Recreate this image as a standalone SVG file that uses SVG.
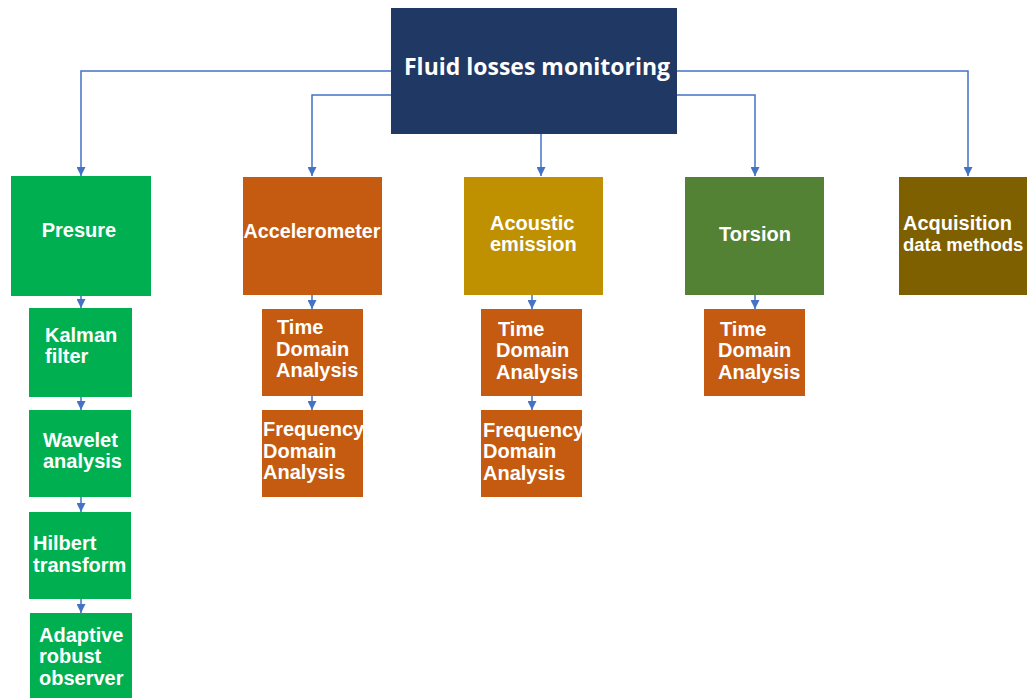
<svg xmlns="http://www.w3.org/2000/svg" width="1027" height="698" viewBox="0 0 1027 698">
<style>
.lbl{font-family:"Liberation Sans",Arial,sans-serif;font-weight:700;font-size:20px;fill:#ffffff}
.title{font-family:"Open Sans","Liberation Sans",sans-serif;font-weight:700;font-size:23px;fill:#ffffff}
.con{fill:none;stroke:#4472c4;stroke-width:1.5}
.green{fill:#00b050}
.orange{fill:#c55a11}
</style>
<defs>
<marker id="ah" viewBox="0 0 10 10" refX="10" refY="5" markerWidth="9" markerHeight="9" markerUnits="userSpaceOnUse" orient="auto">
<path d="M0,0 L10,5 L0,10 z" fill="#4472c4"/>
</marker>
</defs>
<rect width="1027" height="698" fill="#ffffff"/>
<g id="connectors">
<path class="con" d="M391,71 H81 V176" marker-end="url(#ah)"/>
<path class="con" d="M391,95 H312 V176" marker-end="url(#ah)"/>
<path class="con" d="M541,134 V176" marker-end="url(#ah)"/>
<path class="con" d="M677,95 H755 V176" marker-end="url(#ah)"/>
<path class="con" d="M677,71 H968 V176" marker-end="url(#ah)"/>
<path class="con" d="M81,296 V308" marker-end="url(#ah)"/>
<path class="con" d="M81,397 V410" marker-end="url(#ah)"/>
<path class="con" d="M81,497 V512" marker-end="url(#ah)"/>
<path class="con" d="M81,599 V613" marker-end="url(#ah)"/>
<path class="con" d="M312,295 V309" marker-end="url(#ah)"/>
<path class="con" d="M312,396 V410" marker-end="url(#ah)"/>
<path class="con" d="M532,295 V309" marker-end="url(#ah)"/>
<path class="con" d="M532,396 V410" marker-end="url(#ah)"/>
<path class="con" d="M755,295 V309" marker-end="url(#ah)"/>
</g>
<g id="root">
<rect x="391" y="8" width="286" height="126" fill="#203864"/>
<text class="title" x="404" y="75" textLength="266" lengthAdjust="spacingAndGlyphs">Fluid losses monitoring</text>
</g>
<g id="presure">
<rect class="green" x="11" y="176" width="140" height="120"/>
<text class="lbl" x="79" y="237" text-anchor="middle">Presure</text>
</g>
<g id="accelerometer">
<rect class="orange" x="243" y="177" width="139" height="118"/>
<text class="lbl" x="312" y="238" text-anchor="middle" textLength="137" lengthAdjust="spacingAndGlyphs">Accelerometer</text>
</g>
<g id="acoustic">
<rect x="464" y="177" width="139" height="118" fill="#bf9000"/>
<text class="lbl" x="490" y="230">Acoustic</text>
<text class="lbl" x="490" y="251">emission</text>
</g>
<g id="torsion">
<rect x="685" y="177" width="139" height="118" fill="#548235"/>
<text class="lbl" x="755" y="241" text-anchor="middle">Torsion</text>
</g>
<g id="acquisition">
<rect x="899" y="177" width="128" height="118" fill="#7f6000"/>
<text class="lbl" x="903" y="230">Acquisition</text>
<text class="lbl" x="903" y="251" style="font-size:18.5px">data methods</text>
</g>
<g id="kalman">
<rect class="green" x="29" y="308" width="103" height="89"/>
<text class="lbl" x="45" y="342">Kalman</text>
<text class="lbl" x="45" y="363">filter</text>
</g>
<g id="wavelet">
<rect class="green" x="29" y="410" width="102" height="87"/>
<text class="lbl" x="43" y="447">Wavelet</text>
<text class="lbl" x="43" y="468">analysis</text>
</g>
<g id="hilbert">
<rect class="green" x="29" y="512" width="102" height="87"/>
<text class="lbl" x="33" y="550">Hilbert</text>
<text class="lbl" x="33" y="572">transform</text>
</g>
<g id="adaptive">
<rect class="green" x="30" y="613" width="102" height="85"/>
<text class="lbl" x="39" y="642">Adaptive</text>
<text class="lbl" x="39" y="663">robust</text>
<text class="lbl" x="39" y="685">observer</text>
</g>
<g id="acc-time">
<rect class="orange" x="262" y="309" width="101" height="87"/>
<text class="lbl" x="277" y="334">Time</text>
<text class="lbl" x="276" y="356">Domain</text>
<text class="lbl" x="276" y="377">Analysis</text>
</g>
<g id="acc-freq">
<rect class="orange" x="262" y="410" width="101" height="87"/>
<text class="lbl" x="263" y="436">Frequency</text>
<text class="lbl" x="263" y="458">Domain</text>
<text class="lbl" x="263" y="479">Analysis</text>
</g>
<g id="ac-time">
<rect class="orange" x="481" y="309" width="101" height="87"/>
<text class="lbl" x="498" y="336">Time</text>
<text class="lbl" x="496" y="357">Domain</text>
<text class="lbl" x="496" y="379">Analysis</text>
</g>
<g id="ac-freq">
<rect class="orange" x="481" y="410" width="101" height="87"/>
<text class="lbl" x="483" y="437">Frequency</text>
<text class="lbl" x="483" y="458">Domain</text>
<text class="lbl" x="483" y="480">Analysis</text>
</g>
<g id="tor-time">
<rect class="orange" x="704" y="309" width="101" height="87"/>
<text class="lbl" x="720" y="336">Time</text>
<text class="lbl" x="718" y="357">Domain</text>
<text class="lbl" x="718" y="379">Analysis</text>
</g>
</svg>
